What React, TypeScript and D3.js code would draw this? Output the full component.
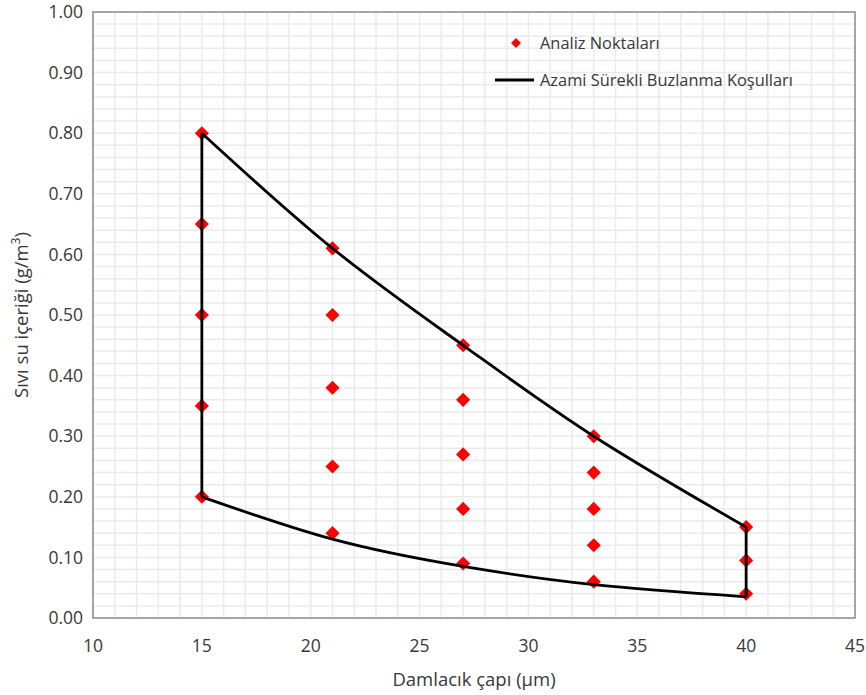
import React from "react";
import * as d3 from "d3";

const pointX = [15, 15, 15, 15, 15, 21, 21, 21, 21, 21, 27, 27, 27, 27, 27, 33, 33, 33, 33, 33, 40, 40, 40];
const pointY = [0.8, 0.65, 0.5, 0.35, 0.2, 0.61, 0.5, 0.38, 0.25, 0.14, 0.45, 0.36, 0.27, 0.18, 0.09, 0.3, 0.24, 0.18, 0.12, 0.06, 0.15, 0.095, 0.04];

const upperX = [15, 21, 27, 33, 40];
const upperY = [0.8, 0.61, 0.45, 0.3, 0.15];
const lowerX = [40, 33, 27, 21, 15];
const lowerY = [0.035, 0.055, 0.085, 0.13, 0.2];

const xTicks = [10, 15, 20, 25, 30, 35, 40, 45];
const yTicks = [0, 0.1, 0.2, 0.3, 0.4, 0.5, 0.6, 0.7, 0.8, 0.9, 1.0];

const legendLabels = ["Analiz Noktaları", "Azami Sürekli Buzlanma Koşulları"];

export default function App() {
  const W = 866, H = 695;
  const m = { left: 93, right: 855, top: 12, bottom: 618 };
  const x = d3.scaleLinear().domain([10, 45]).range([m.left, m.right]);
  const y = d3.scaleLinear().domain([0, 1]).range([m.bottom, m.top]);
  const font = "'Open Sans', sans-serif";

  const minorX = d3.range(10, 45.001, 1);
  const minorY = d3.range(0, 1.0001, 0.02);

  const curve = d3.line<[number, number]>().x(d => x(d[0])).y(d => y(d[1])).curve(d3.curveNatural);
  const upperPts: [number, number][] = upperX.map((v, i) => [v, upperY[i]]);
  const lowerPts: [number, number][] = lowerX.map((v, i) => [v, lowerY[i]]).reverse() as [number, number][];

  const upperPath = curve(upperPts) || "";
  const lowerPath = curve(lowerPts) || "";
  const leftSide = `M${x(15)},${y(lowerY[lowerY.length - 1])}L${x(15)},${y(upperY[0])}`;
  const rightSide = `M${x(40)},${y(upperY[upperY.length - 1])}L${x(40)},${y(lowerY[0])}`;

  const diamond = d3.symbol(d3.symbolSquare, 100)() || "";
  const txt = "#383838";

  return (
    <svg width={W} height={H} style={{ position: "absolute", left: 0, top: 0, background: "#fff" }}>
      <rect x={0} y={0} width={W} height={H} fill="#fff" />
      <g>
        {minorX.map(v => (
          <line key={"gx" + v} x1={x(v)} x2={x(v)} y1={m.top} y2={m.bottom} stroke="#ebebeb" strokeWidth={1.5} />
        ))}
        {minorY.map(v => (
          <line key={"gy" + v} x1={m.left} x2={m.right} y1={y(v)} y2={y(v)} stroke="#ebebeb" strokeWidth={1.5} />
        ))}
      </g>
      <rect x={m.left} y={m.top} width={m.right - m.left} height={m.bottom - m.top} fill="none" stroke="#8c8c8c" strokeWidth={1.5} />
      <g fontFamily={font} fontSize={17.5} fill={txt}>
        {yTicks.map(v => (
          <text key={"yt" + v} x={m.left - 10} y={y(v)} dy="0.35em" textAnchor="end">{v.toFixed(2)}</text>
        ))}
        {xTicks.map(v => (
          <text key={"xt" + v} x={x(v)} y={m.bottom + 34} textAnchor="middle">{v}</text>
        ))}
      </g>
      <text x={(m.left + m.right) / 2} y={686} textAnchor="middle" fontFamily={font} fontSize={18.5} fill={txt}>Damlacık çapı (µm)</text>
      <text transform={`translate(28,${(m.top + m.bottom) / 2}) rotate(-90)`} textAnchor="middle" fontFamily={font} fontSize={18.5} fill={txt}>
        Sıvı su içeriği (g/m<tspan dy="-8" fontSize={12}>3</tspan><tspan dy="8">)</tspan>
      </text>
      <g>
        {pointX.map((v, i) => (
          <path key={"p" + i} d={diamond} transform={`translate(${x(v)},${y(pointY[i])}) rotate(45)`} fill="#ff0000" />
        ))}
      </g>
      <g fill="none" stroke="#000" strokeWidth={2.8} strokeLinejoin="round">
        <path d={upperPath} />
        <path d={lowerPath} />
        <path d={leftSide} />
        <path d={rightSide} />
      </g>
      <g fontFamily={font} fontSize={16.4} fill={txt}>
        <path d={d3.symbol(d3.symbolSquare, 50)() || ""} transform="translate(516,43) rotate(45)" fill="#ff0000" />
        <text x={540} y={43} dy="0.35em">{legendLabels[0]}</text>
        <line x1={495} x2={534} y1={80} y2={80} stroke="#000" strokeWidth={2.8} />
        <text x={540} y={80} dy="0.35em">{legendLabels[1]}</text>
      </g>
    </svg>
  );
}
